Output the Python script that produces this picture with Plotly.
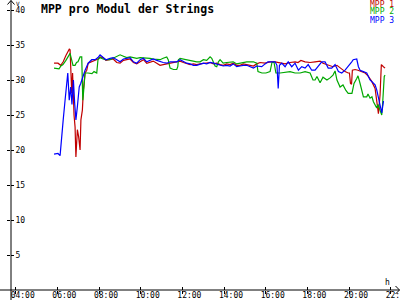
import plotly.graph_objects as go

# ---------------- data ----------------
hour_ticks = [4, 6, 8, 10, 12, 14, 16, 18, 20, 22]
hour_labels = ["04:00", "06:00", "08:00", "10:00", "12:00", "14:00", "16:00", "18:00", "20:00", "22:00"]
volt_ticks = [5, 10, 15, 20, 25, 30, 35, 40]
series_names = ["MPP 1", "MPP 2", "MPP 3"]
series_colors = ["#c00000", "#00a800", "#0000ff"]

t_mpp1 = [5.84, 6.03, 6.16, 6.28, 6.41, 6.57, 6.61, 6.65, 6.69, 6.73, 6.77, 6.80, 6.85, 6.89, 6.96,
          7.02, 7.09, 7.13, 7.20, 7.25, 7.33, 7.41, 7.48, 7.65, 7.81, 7.95, 8.05,
          8.19, 8.33, 8.53, 8.68, 8.85, 9.01, 9.17, 9.33, 9.49, 9.65, 9.81, 9.97, 10.13, 10.29,
          10.45, 10.60, 10.77, 10.93, 11.08, 11.25, 11.41, 11.57, 11.73, 11.89, 12.05, 12.21,
          12.37, 12.53, 12.69, 12.85, 13.01, 13.17, 13.33, 13.49, 13.65, 13.81, 13.96, 14.13,
          14.29, 14.44, 14.61, 14.77, 14.92, 15.09, 15.25, 15.41, 15.57, 15.73,
          15.97, 16.21, 16.45, 16.69, 16.93, 17.17, 17.41, 17.55, 17.69, 17.89, 18.13, 18.37,
          18.61, 18.75, 18.93, 19.09, 19.23, 19.42, 19.65, 19.81, 19.96, 20.02, 20.07, 20.12,
          20.16, 20.29, 20.43, 20.61, 20.77, 20.91, 21.09, 21.25, 21.33, 21.41, 21.49, 21.52,
          21.55, 21.65, 21.73]
v_mpp1 = [32.4, 32.4, 32.1, 32.6, 33.5, 34.4, 34.3, 30.0, 28.1, 31.0, 27.0, 25.0, 23.3, 19.0, 22.9,
          21.9, 20.0, 24.3, 25.7, 28.6, 31.0, 31.4, 32.4, 32.6, 32.9, 33.0, 33.3,
          33.2, 32.8, 32.9, 33.0, 32.5, 32.4, 32.8, 32.9, 33.0, 32.5, 32.3, 32.6, 32.9, 32.4,
          32.5, 32.7, 32.4, 32.1, 32.2, 32.3, 32.5, 32.5, 32.6, 32.7, 32.5, 32.3,
          32.2, 32.3, 32.2, 32.3, 32.4, 32.4, 32.5, 32.3, 32.4, 32.2, 32.1, 32.3,
          32.2, 32.4, 32.1, 32.1, 32.3, 32.2, 32.1, 32.0, 32.3, 32.5,
          32.4, 32.6, 32.6, 32.4, 32.3, 32.5, 32.6, 32.5, 32.8, 32.6, 32.5, 32.6,
          32.7, 32.4, 32.2, 32.0, 31.9, 32.1, 31.5, 31.2, 31.0, 31.0, 29.5, 29.4,
          31.4, 31.5, 31.4, 31.2, 31.0, 30.6, 29.8, 28.8, 26.9, 25.2, 27.9, 31.0,
          32.2, 31.9, 31.7]

t_mpp2 = [5.84, 5.98, 6.08, 6.17, 6.27, 6.41, 6.53, 6.61, 6.65, 6.70, 6.75, 6.85, 6.92, 6.99, 7.09,
          7.17, 7.22, 7.25, 7.33, 7.47, 7.57, 7.66, 7.76, 7.89, 7.95, 8.05,
          8.19, 8.33, 8.53, 8.68, 8.85, 9.01, 9.17, 9.33, 9.49, 9.65, 9.81, 9.97, 10.13, 10.29,
          10.45, 10.60, 10.77, 10.93, 11.08, 11.25, 11.32, 11.41, 11.57, 11.73, 11.78, 11.81,
          11.89, 12.05, 12.21, 12.37, 12.53, 12.69, 12.85, 13.01, 13.17, 13.33, 13.41, 13.49,
          13.57, 13.65, 13.73, 13.81, 13.96, 14.13, 14.29, 14.44, 14.61, 14.77, 14.92, 15.09,
          15.25, 15.41, 15.57, 15.63, 15.82, 16.01, 16.21, 16.30, 16.40, 16.49, 16.69, 16.93,
          17.17, 17.41, 17.65, 17.89, 18.13, 18.27, 18.37, 18.46, 18.61, 18.75, 18.94, 19.09,
          19.23, 19.33, 19.42, 19.57, 19.71, 19.85, 19.96, 20.14, 20.24, 20.37, 20.43, 20.53,
          20.69, 20.85, 20.91, 21.01, 21.10, 21.17, 21.25, 21.33, 21.39, 21.49, 21.57, 21.61,
          21.65, 21.69, 21.73]
v_mpp2 = [31.7, 31.7, 31.6, 32.0, 32.2, 32.8, 33.3, 33.8, 33.3, 32.6, 32.1, 32.1, 32.5, 32.6, 33.3,
          33.3, 27.1, 28.0, 31.0, 31.0, 31.0, 30.9, 31.2, 31.0, 32.9, 33.2,
          33.0, 32.9, 32.9, 33.1, 33.4, 33.6, 33.4, 33.2, 33.3, 33.2, 33.1, 33.2, 33.2, 33.1,
          33.1, 33.0, 32.9, 32.9, 33.1, 33.3, 32.9, 31.7, 31.5, 31.5, 31.9, 32.9,
          33.1, 33.0, 32.9, 32.8, 32.6, 32.6, 32.6, 32.9, 32.8, 33.3, 33.1, 32.6,
          32.0, 31.9, 32.6, 32.9, 32.4, 32.5, 32.6, 32.6, 32.3, 32.4, 32.6, 32.6,
          32.6, 32.6, 32.4, 31.2, 31.0, 31.0, 31.2, 32.5, 32.5, 31.0, 31.0, 31.1,
          31.2, 31.0, 31.0, 31.2, 31.0, 30.0, 30.0, 30.5, 29.6, 30.4, 30.0, 30.3,
          30.7, 31.3, 30.0, 29.0, 29.3, 28.5, 28.1, 28.1, 29.5, 30.2, 30.6, 29.5,
          27.6, 27.6, 28.0, 27.4, 27.6, 26.9, 26.4, 26.0, 26.5, 25.7, 25.0, 26.5,
          28.6, 30.5, 30.7]

t_mpp3 = [5.84, 6.03, 6.13, 6.21, 6.28, 6.37, 6.45, 6.50, 6.57, 6.64, 6.70, 6.77, 6.83, 6.89, 6.96,
          7.05, 7.12, 7.22, 7.33, 7.48, 7.65, 7.81, 7.95, 8.05,
          8.19, 8.33, 8.53, 8.68, 8.85, 9.01, 9.17, 9.33, 9.49, 9.65, 9.81, 9.97, 10.13, 10.29,
          10.45, 10.60, 10.77, 10.93, 11.08, 11.25, 11.41, 11.57, 11.73, 11.89, 12.05, 12.21,
          12.37, 12.53, 12.69, 12.85, 13.01, 13.17, 13.33, 13.49, 13.65, 13.81, 13.96, 14.13,
          14.29, 14.44, 14.61, 14.77, 14.92, 15.09, 15.25, 15.41, 15.57, 15.73,
          15.81, 15.97, 16.11, 16.45, 16.54, 16.60, 16.66, 16.77, 16.93, 17.08, 17.25, 17.41,
          17.57, 17.73, 17.89, 18.04, 18.21, 18.37, 18.52, 18.69, 18.85, 19.00, 19.17, 19.33,
          19.49, 19.65, 19.81, 19.96, 20.13, 20.20, 20.37, 20.45, 20.53, 20.69, 20.85, 21.01,
          21.17, 21.25, 21.33, 21.41, 21.49, 21.57, 21.65, 21.68]
v_mpp3 = [19.4, 19.5, 19.2, 21.4, 24.3, 27.1, 30.0, 31.0, 27.1, 29.0, 26.5, 30.0, 26.7, 24.3, 26.2,
          29.0, 29.5, 30.5, 31.4, 32.4, 32.9, 32.9, 33.2, 33.6,
          33.3, 32.9, 33.1, 33.2, 32.9, 32.6, 33.0, 33.1, 33.2, 32.6, 32.4, 32.9, 33.1, 32.6,
          32.8, 33.0, 32.8, 32.6, 32.5, 32.4, 32.6, 32.6, 32.6, 32.9, 32.6, 32.4,
          32.3, 32.1, 32.1, 32.3, 32.4, 32.3, 32.5, 32.4, 32.3, 32.1, 32.0, 32.1,
          32.0, 32.3, 31.9, 32.0, 32.1, 32.1, 31.9, 31.7, 32.0, 31.9,
          31.9, 32.3, 32.6, 32.6, 32.1, 28.8, 32.1, 32.4, 31.9, 32.6, 31.9, 32.4,
          31.4, 31.9, 31.7, 32.2, 31.4, 31.4, 31.9, 32.6, 32.6, 31.7, 31.7, 32.2,
          31.2, 31.0, 31.4, 31.9, 32.6, 32.9, 33.0, 31.9, 31.4, 31.2, 31.0, 30.0,
          29.6, 29.3, 28.6, 27.6, 26.5, 25.3, 26.9, 26.9]

times = [t_mpp1, t_mpp2, t_mpp3]
values = [v_mpp1, v_mpp2, v_mpp3]

# ---------------- geometry (pixels -> paper) ----------------
W, H = 400, 300
ML, MB = 11, 10
PW, PH = W - ML, H - MB


def px(x):
    return (x - ML) / PW


def py(y):
    return (PH - y) / PH


X_RANGE = [3.7744, 22.4464]
Y_RANGE = [0, 290 / 7]
MONO = "DejaVu Sans Mono"

fig = go.Figure()
for t, v, name, col in zip(times, values, series_names, series_colors):
    fig.add_trace(go.Scatter(x=t, y=v, mode="lines", name=name,
                             line=dict(color=col, width=1.2), showlegend=False))
# carrier for the second (inner tick) axes
fig.add_trace(go.Scatter(x=[None], y=[None], xaxis="x2", yaxis="y2",
                         mode="lines", showlegend=False, hoverinfo="skip"))

axis_common = dict(showgrid=False, zeroline=False, showline=False, tickcolor="black",
                   tickwidth=1, ticklen=3, fixedrange=True, automargin=False)

fig.update_layout(
    width=W, height=H,
    margin=dict(l=ML, r=0, t=0, b=MB, pad=0, autoexpand=False),
    paper_bgcolor="white", plot_bgcolor="white",
    showlegend=False,
    xaxis=dict(range=X_RANGE, tickvals=hour_ticks, ticktext=hour_labels, ticks="outside",
               tickfont=dict(family=MONO, size=8, color="black"), ticklabelshift=7,
               ticklabelstandoff=-6, ticklabeloverflow="allow", **axis_common),
    yaxis=dict(range=Y_RANGE, tickvals=volt_ticks, ticks="inside", ticklabelposition="inside",
               ticklabeloverflow="allow",
               tickfont=dict(family=MONO, size=8, color="black"), **axis_common),
    xaxis2=dict(range=X_RANGE, overlaying="x", tickvals=hour_ticks, ticks="inside",
                showticklabels=False, **axis_common),
    yaxis2=dict(range=Y_RANGE, overlaying="y", tickvals=volt_ticks, ticks="outside",
                showticklabels=False, **axis_common),
)

# axis lines and arrow heads
line_style = dict(color="black", width=1)
fig.add_shape(type="line", xref="paper", yref="paper", x0=px(11), x1=px(11), y0=py(300), y1=py(0.5), line=line_style)
fig.add_shape(type="line", xref="paper", yref="paper", x0=px(0), x1=px(399.5), y0=py(290), y1=py(290), line=line_style)
fig.add_shape(type="path", xref="paper", yref="paper",
              path=f"M {px(7.5)},{py(4.5)} L {px(11)},{py(0.5)} L {px(14.5)},{py(4.5)}", line=line_style)
fig.add_shape(type="path", xref="paper", yref="paper",
              path=f"M {px(395.5)},{py(286)} L {px(399.5)},{py(290)} L {px(395.5)},{py(294)}", line=line_style)

# title
fig.add_annotation(text="<b>MPP pro Modul der Strings</b>", xref="paper", yref="paper",
                   x=px(39), y=py(0), xanchor="left", yanchor="top", showarrow=False,
                   font=dict(family=MONO, size=11.5, color="black"))
# unit labels
fig.add_annotation(text="V", xref="paper", yref="paper", x=px(14), y=py(3.5), xanchor="left",
                   yanchor="middle", showarrow=False, font=dict(family=MONO, size=6, color="black"))
fig.add_annotation(text="h", xref="paper", yref="paper", x=px(387.5), y=py(282.5), xanchor="center",
                   yanchor="middle", showarrow=False, font=dict(family=MONO, size=8, color="black"))
# legend texts
for i, (name, col) in enumerate(zip(series_names, series_colors)):
    fig.add_annotation(text=name, xref="paper", yref="paper", x=px(396), y=py(4 + 8 * i),
                       xanchor="right", yanchor="middle", showarrow=False,
                       font=dict(family=MONO, size=8, color=col))

fig.write_html("out.html")
